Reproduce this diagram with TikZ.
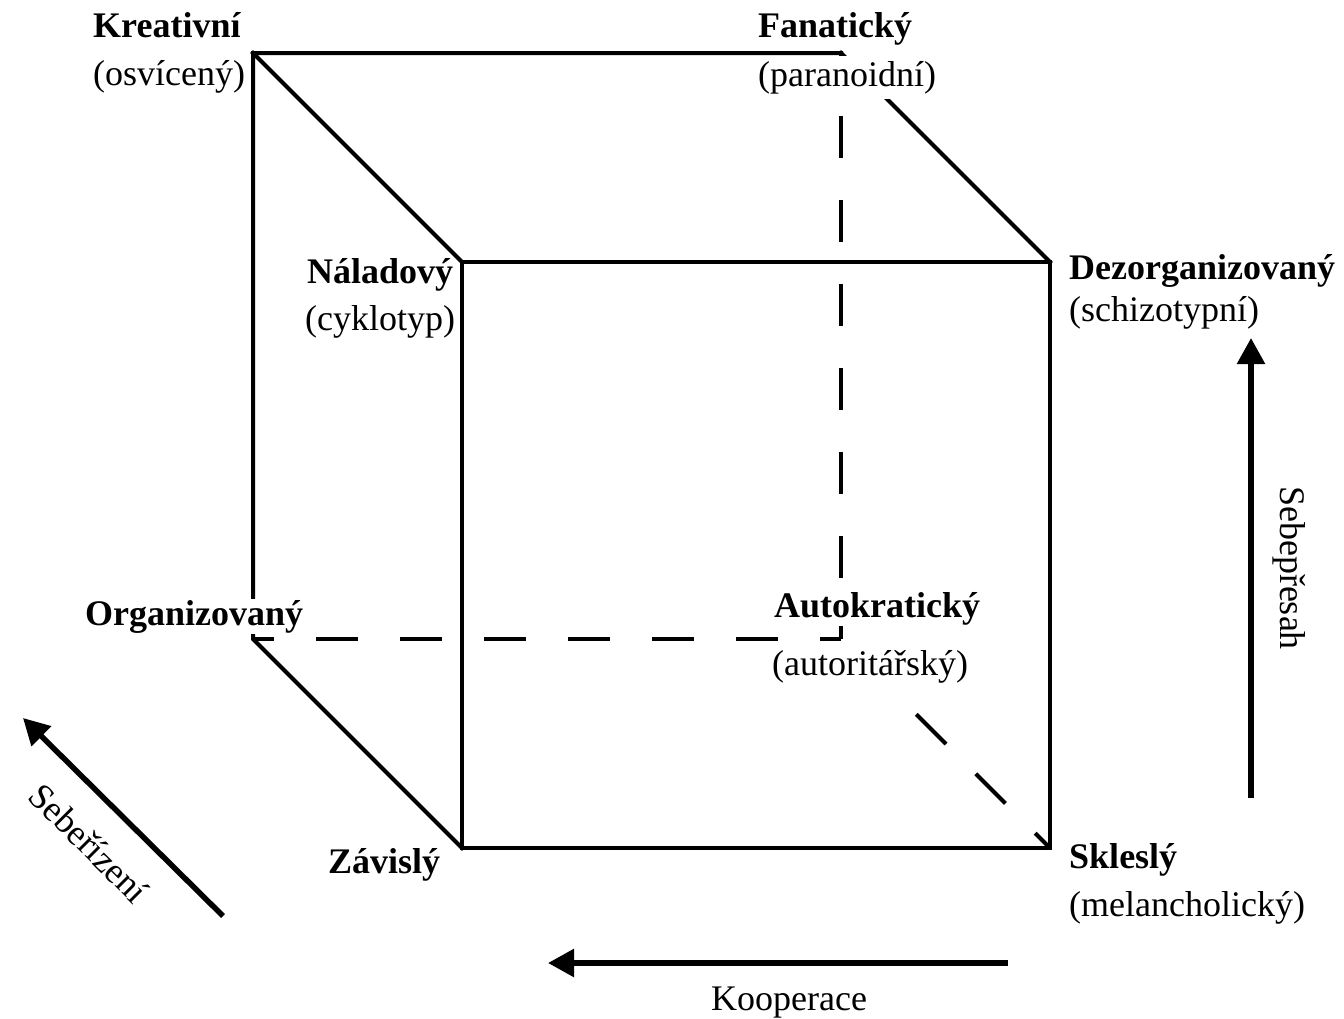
\documentclass[tikz,border=0pt]{standalone}
\usepackage{fontspec}
\setmainfont{Liberation Serif}
\usetikzlibrary{arrows.meta}
\begin{document}
\begin{tikzpicture}[x=1pt,y=-1pt,
  edge/.style={line width=4pt, line cap=rect, line join=miter},
  hidden/.style={line width=4pt, dash pattern=on 42pt off 42pt, dash phase=21pt},
  axis/.style={line width=5.5pt, -{Triangle[length=26pt,width=27pt]}},
  lbl/.style={anchor=base west, fill=white, inner sep=1pt, font=\fontsize{36}{40}\selectfont},
  blbl/.style={lbl, font=\fontsize{36}{40}\selectfont\bfseries},
  axlbl/.style={font=\fontsize{36}{40}\selectfont, inner sep=0pt}]
\useasboundingbox (0,0) rectangle (1344,1018);
% cube corners
\coordinate (BTL) at (253,53);
\coordinate (BTR) at (841,53);
\coordinate (BBL) at (253,639);
\coordinate (BBR) at (841,639);
\coordinate (FTL) at (462,262);
\coordinate (FTR) at (1050,262);
\coordinate (FBL) at (462,848);
\coordinate (FBR) at (1050,848);
% hidden edges
\draw[hidden] (BTR) -- (BBR);
\draw[hidden] (BBL) -- (BBR);
\draw[hidden] (FBR) -- (BBR);
% visible edges
\draw[edge] (BTR) -- (BTL) -- (BBL) -- (FBL);
\draw[edge] (BTL) -- (FTL);
\draw[edge] (BTR) -- (FTR);
\draw[edge] (FTL) -- (FTR) -- (FBR) -- (FBL) -- cycle;
% labels
\node[blbl] (kre) at (92,37) {Kreativní};
\node[lbl] (osv) at (92,85) {(osvícený)};
\node[blbl] (fan) at (757,37) {Fanatický};
\node[lbl, inner ysep=5pt] (par) at (757,86) {(paranoidní)};
\node[blbl] (nal) at (306,283) {Náladový};
\node[lbl] (cyk) at (304,330) {(cyklotyp)};
\node[blbl] (dez) at (1068,279) {Dezorganizovaný};
\node[lbl] (sch) at (1068,321) {(schizotypní)};
\node[blbl] (org) at (84,625) {Organizovaný};
\node[blbl] (aut) at (773,617) {Autokratický};
\node[lbl, inner ysep=5pt] (auto) at (771,675) {(autoritářský)};
\node[blbl] (zav) at (327,873) {Závislý};
\node[blbl] (skl) at (1068,868) {Skleslý};
\node[lbl] (mel) at (1068,916) {(melancholický)};
% axes
\coordinate (s1) at (223,916);
\coordinate (s2) at (23,718);
\draw[axis] (s1) -- (s2);
\node[axlbl, rotate=-45] (ser) at (89,843) {Sebeřízení};
\coordinate (k1) at (1008,963);
\coordinate (k2) at (548,963);
\draw[axis] (k1) -- (k2);
\node[lbl, fill=none] (koo) at (710,1010) {Kooperace};
\coordinate (p1) at (1251,798);
\coordinate (p2) at (1251,338);
\draw[axis] (p1) -- (p2);
\node[axlbl, rotate=-90] (seb) at (1289,568) {Sebepřesah};
\end{tikzpicture}
\end{document}
